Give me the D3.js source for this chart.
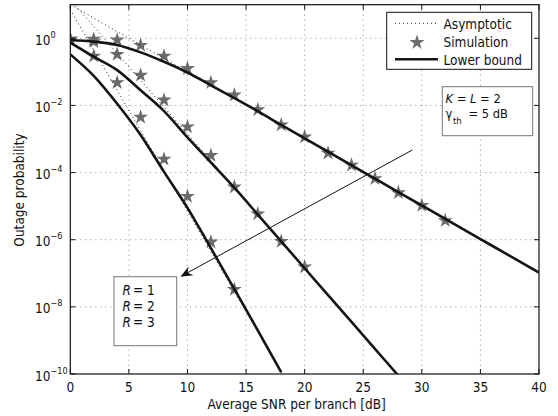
<!DOCTYPE html>
<html>
<head>
<meta charset="utf-8">
<script src="https://cdn.jsdelivr.net/npm/d3@7"></script>
<style>
  html, body { margin: 0; padding: 0; background: #fff; }
  svg { display: block; }
  text { font-family: "DejaVu Sans Condensed", "DejaVu Sans", sans-serif; font-stretch: condensed; fill: #111; }
</style>
</head>
<body>
<svg id="chart" width="558" height="416"></svg>
<script>
// ---------------- data (log10 of outage probability) ----------------
const xTicks = [0, 5, 10, 15, 20, 25, 30, 35, 40];
const yTickExps = [0, -2, -4, -6, -8, -10];
const xLabel = "Average SNR per branch [dB]";
const yLabel = "Outage probability";
const legendLabels = ["Asymptotic", "Simulation", "Lower bound"];
const rLabels = ["1", "2", "3"];

// Simulation (stars)
const simSnrR1 = [0, 2, 4, 6, 8, 10, 12, 14, 16, 18, 20, 22, 24, 26, 28, 30, 32];
const simR1 = [-0.03, -0.03, -0.05, -0.21, -0.53, -0.9, -1.32, -1.69, -2.13, -2.58, -2.94, -3.42, -3.78, -4.18, -4.6, -4.98, -5.43];
const simSnrR2 = [0, 2, 4, 6, 8, 10, 12, 14, 16, 18, 20];
const simR2 = [-0.03, -0.1, -0.48, -1.1, -1.84, -2.64, -3.49, -4.43, -5.23, -6.05, -6.81];
const simSnrR3 = [0, 2, 4, 6, 8, 10, 12, 14];
const simR3 = [-0.05, -0.53, -1.32, -2.35, -3.6, -4.71, -6.07, -7.48];

// Lower bound (solid)
const lbSnrR1 = [0, 2, 4, 6, 8, 10, 12, 14, 16, 18, 20, 22, 24, 26, 28, 30, 32, 34, 36, 38, 40];
const lbR1 = [-0.05, -0.1, -0.2, -0.42, -0.7, -1.02, -1.4, -1.78, -2.17, -2.58, -2.98, -3.38, -3.78, -4.18, -4.58, -4.98, -5.38, -5.78, -6.18, -6.58, -6.98];
const lbSnrR2 = [0, 2, 4, 6, 8, 10, 12, 14, 16, 18, 20, 22, 24, 26, 28];
const lbR2 = [-0.13, -0.55, -0.95, -1.55, -2.17, -2.95, -3.7, -4.45, -5.25, -6.05, -6.85, -7.65, -8.45, -9.25, -10.05];
const lbSnrR3 = [0, 2, 4, 6, 8, 10, 12, 14, 16, 18];
const lbR3 = [-0.48, -1.12, -1.95, -2.88, -3.98, -5.05, -6.25, -7.47, -8.7, -9.95];

// Asymptotic (dotted)
const asySnr = [0, 40];
const asyR1 = [1.0, -7.0];
const asyR2 = [1.15, -14.85];
const asyR3 = [0.85, -23.15];

// ---------------- layout ----------------
const svg = d3.select("#chart");
const L = 70.3, R = 539, T = 4.7, B = 374;
const x = d3.scaleLinear().domain([0, 40]).range([L, R]);
const y = d3.scaleLog().domain([1e-10, 10]).range([B, T]);
const FS = 13.5;
const starColor = "#6b6b6b";

const zip = (xs, ls) => xs.map((v, i) => ({x: v, p: Math.pow(10, ls[i])}));

function txt(parent, px, py, anchor, size) {
  return parent.append("text").attr("x", px).attr("y", py)
    .attr("text-anchor", anchor || "start").attr("font-size", size || FS);
}

svg.append("defs").append("clipPath").attr("id", "clip")
  .append("rect").attr("x", L).attr("y", T).attr("width", R - L).attr("height", B - T);

// grid
const grid = svg.append("g").attr("stroke", "#8a8a8a").attr("stroke-width", 1).attr("stroke-dasharray", "1,4");
xTicks.slice(1, -1).forEach(t => grid.append("line").attr("x1", x(t)).attr("x2", x(t)).attr("y1", T).attr("y2", B));
yTickExps.slice(0, -1).forEach(e => grid.append("line").attr("x1", L).attr("x2", R).attr("y1", y(Math.pow(10, e))).attr("y2", y(Math.pow(10, e))));

const plot = svg.append("g").attr("clip-path", "url(#clip)");
const line = d3.line().x(d => x(d.x)).y(d => y(d.p)).curve(d3.curveMonotoneX);

// stars
const star = d3.symbol().type(d3.symbolStar).size(70);
[[simSnrR1, simR1], [simSnrR2, simR2], [simSnrR3, simR3]].forEach(([xs, ls]) => {
  plot.append("g").selectAll("path").data(zip(xs, ls)).join("path")
    .attr("d", star).attr("transform", d => `translate(${x(d.x)},${y(d.p)})`)
    .attr("fill", starColor);
});

// asymptotic
[asyR1, asyR2, asyR3].forEach(ls => {
  plot.append("path").datum(zip(asySnr, ls)).attr("d", d3.line().x(d => x(d.x)).y(d => y(d.p)))
    .attr("fill", "none").attr("stroke", "#222").attr("stroke-width", 1).attr("stroke-dasharray", "1,3");
});

// lower bound
[[lbSnrR1, lbR1], [lbSnrR2, lbR2], [lbSnrR3, lbR3]].forEach(([xs, ls]) => {
  plot.append("path").datum(zip(xs, ls)).attr("d", line)
    .attr("fill", "none").attr("stroke", "#151515").attr("stroke-width", 2.6);
});

// frame and ticks
svg.append("rect").attr("x", L).attr("y", T).attr("width", R - L).attr("height", B - T)
  .attr("fill", "none").attr("stroke", "#111").attr("stroke-width", 1.2);
const tk = svg.append("g").attr("stroke", "#111").attr("stroke-width", 1);
xTicks.forEach(t => {
  tk.append("line").attr("x1", x(t)).attr("x2", x(t)).attr("y1", B).attr("y2", B - 5);
  tk.append("line").attr("x1", x(t)).attr("x2", x(t)).attr("y1", T).attr("y2", T + 5);
});
yTickExps.forEach(e => {
  const yy = y(Math.pow(10, e));
  tk.append("line").attr("x1", L).attr("x2", L + 5).attr("y1", yy).attr("y2", yy);
  tk.append("line").attr("x1", R).attr("x2", R - 5).attr("y1", yy).attr("y2", yy);
});

// tick labels
xTicks.forEach(t => txt(svg, x(t), 392, "middle").text(t));
yTickExps.forEach(e => {
  const yy = y(Math.pow(10, e));
  const t = txt(svg, 35, yy + 6.5, "start");
  t.append("tspan").text("10");
  t.append("tspan").attr("font-size", 9).attr("dy", -7).text(e === 0 ? "0" : "\u2212" + Math.abs(e));
});

// axis titles
txt(svg, (L + R) / 2 - 8, 409, "middle").text(xLabel);
svg.append("text").attr("transform", "translate(24,190) rotate(-90)")
  .attr("text-anchor", "middle").attr("font-size", FS).text(yLabel);

// legend
const lg = svg.append("g");
lg.append("rect").attr("x", 386.7).attr("y", 12.3).attr("width", 145).attr("height", 57)
  .attr("fill", "#fff").attr("stroke", "#111").attr("stroke-width", 1);
lg.append("line").attr("x1", 395).attr("x2", 437).attr("y1", 23.3).attr("y2", 23.3)
  .attr("stroke", "#222").attr("stroke-width", 1).attr("stroke-dasharray", "1,3");
lg.append("path").attr("d", star).attr("transform", "translate(417,42.5)").attr("fill", starColor);
lg.append("line").attr("x1", 395).attr("x2", 438).attr("y1", 59.3).attr("y2", 59.3)
  .attr("stroke", "#151515").attr("stroke-width", 2.6);
legendLabels.forEach((s, i) => txt(lg, 443.5, 28.5 + i * 18.3, "start").text(s));

// parameter box
const pb = svg.append("g");
const PF = 12.8;
pb.append("rect").attr("x", 442.3).attr("y", 86.7).attr("width", 90.4).attr("height", 49)
  .attr("fill", "#fff").attr("stroke", "#777").attr("stroke-width", 1);
const k1 = txt(pb, 445.5, 102.5, "start", PF);
k1.append("tspan").attr("font-style", "italic").text("K");
k1.append("tspan").text(" = ");
k1.append("tspan").attr("font-style", "italic").text("L");
k1.append("tspan").text(" = 2");
txt(pb, 445.5, 118, "start", PF).text("\u03b3");
txt(pb, 453, 123.5, "start", 9.5).text("th");
txt(pb, 468.5, 118, "start", PF).text("= 5 dB");

// R box
const rb = svg.append("g");
rb.append("rect").attr("x", 114).attr("y", 276.7).attr("width", 62.7).attr("height", 69)
  .attr("fill", "#fff").attr("stroke", "#777").attr("stroke-width", 1);
rLabels.forEach((s, i) => {
  const yy = 294.5 + i * 16.3;
  txt(rb, 122.5, yy).attr("font-style", "italic").text("R");
  txt(rb, 133, yy).text("= " + s);
});

// arrow (data coordinates)
const arrowFrom = [29.18, -3.33], arrowTo = [9.4, -7.1];
const ax0 = x(arrowFrom[0]), ay0 = y(Math.pow(10, arrowFrom[1]));
const ax1 = x(arrowTo[0]), ay1 = y(Math.pow(10, arrowTo[1]));
svg.append("line").attr("x1", ax0).attr("y1", ay0).attr("x2", ax1 + 6).attr("y2", ay1 - 3.3)
  .attr("stroke", "#111").attr("stroke-width", 1);
const ang = Math.atan2(ay1 - ay0, ax1 - ax0) * 180 / Math.PI;
svg.append("path").attr("d", "M0,0 L-12,-5 L-8,0 L-12,5 Z")
  .attr("transform", `translate(${ax1},${ay1}) rotate(${ang})`).attr("fill", "#111");
</script>
</body>
</html>
